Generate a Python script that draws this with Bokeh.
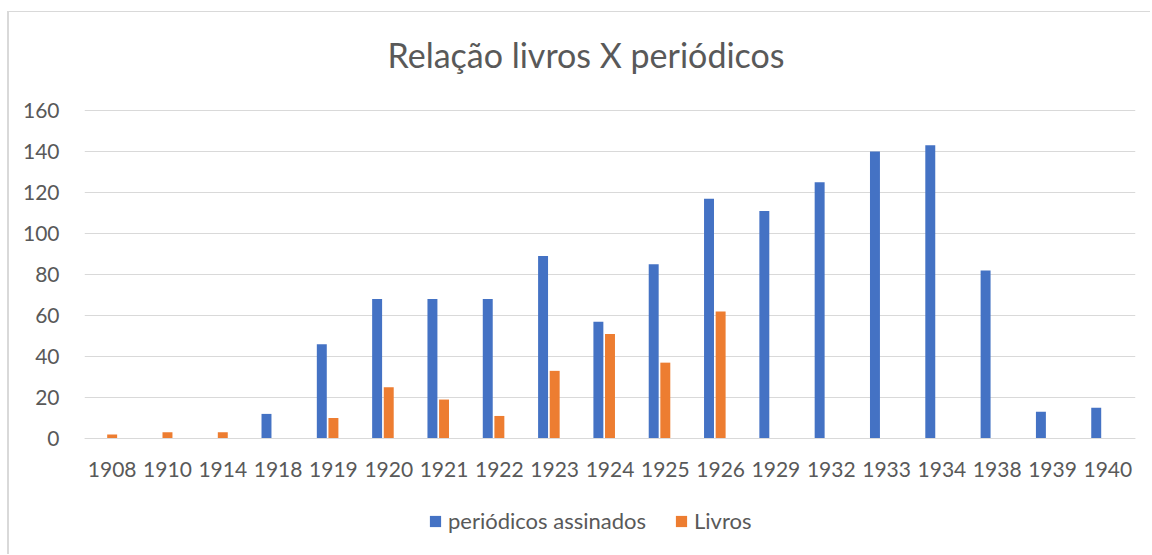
from bokeh.plotting import figure
from bokeh.models import (ColumnDataSource, FactorRange, Range1d, Legend, LegendItem,
                          FixedTicker, Label)
from bokeh.transform import dodge
from bokeh.embed import file_html
from bokeh.resources import INLINE

anos = ["1908", "1910", "1914", "1918", "1919", "1920", "1921", "1922", "1923", "1924",
        "1925", "1926", "1929", "1932", "1933", "1934", "1938", "1939", "1940"]
periodicos = [0, 0, 0, 12, 46, 68, 68, 68, 89, 57, 85, 117, 111, 125, 140, 143, 82, 13, 15]
livros = [2, 3, 3, 0, 10, 25, 19, 11, 33, 51, 37, 62, 0, 0, 0, 0, 0, 0, 0]
y_ticks = [0, 20, 40, 60, 80, 100, 120, 140, 160]

titulo = "Relação livros X periódicos"
series_names = ["periódicos assinados", "Livros"]

src = ColumnDataSource(dict(ano=anos, per=periodicos, liv=livros))

FONT = "Lato"
TXT = "#595959"

# layout in pixels (content area of the figure)
H = 543
px_top_tick = 98      # y-pixel of 160 inside figure
px_zero = 426         # y-pixel of 0 inside figure
ppu = (px_zero - px_top_tick) / (y_ticks[-1] - y_ticks[0])
y_end = y_ticks[-1] + px_top_tick / ppu
y_start = -(H - px_zero) / ppu
cat_px = 1051 / len(anos)

p = figure(x_range=FactorRange(*anos), y_range=Range1d(y_start, y_end),
           width=1143, height=H, output_backend="svg", toolbar_location=None,
           min_border_left=75, min_border_right=17, min_border_top=0, min_border_bottom=0,
           styles={"margin-left": "7px", "margin-top": "11px",
                   "border-left": "2px solid #d9d9d9", "border-top": "1px solid #d9d9d9"})

r1 = p.vbar(x=dodge("ano", -0.21, range=p.x_range), top="per", width=0.18, source=src,
            fill_color="#4472C4", line_color=None)
r2 = p.vbar(x=dodge("ano", 0.0, range=p.x_range), top="liv", width=0.18, source=src,
            fill_color="#ED7D31", line_color=None)

p.outline_line_color = None
p.xgrid.grid_line_color = None
p.ygrid.grid_line_color = "#d9d9d9"
p.ygrid.grid_line_width = 1

p.yaxis.ticker = FixedTicker(ticks=y_ticks)
p.yaxis.axis_line_color = None
p.yaxis.major_tick_line_color = None
p.yaxis.minor_tick_line_color = None
p.yaxis.major_label_text_font = FONT
p.yaxis.major_label_text_font_size = "21px"
p.yaxis.major_label_text_color = TXT
p.yaxis.major_label_standoff = 19

p.xaxis.fixed_location = 0
p.xaxis.axis_line_color = "#d9d9d9"
p.xaxis.major_tick_line_color = None
p.xaxis.minor_tick_line_color = None
p.xaxis.major_label_text_font = FONT
p.xaxis.major_label_text_font_size = "21px"
p.xaxis.major_label_text_color = TXT
p.xaxis.major_label_standoff = 17

title_y = (px_zero - 42) / ppu
title_x = len(anos) / 2 - 24 / cat_px
p.add_layout(Label(x=title_x, y=title_y, text=titulo, text_align="center",
                   text_baseline="middle", text_font=FONT, text_font_size="34px",
                   text_color=TXT))

legend = Legend(items=[LegendItem(label=series_names[0], renderers=[r1]),
                       LegendItem(label=series_names[1], renderers=[r2])],
                orientation="horizontal", location=(344, 21),
                label_text_font=FONT, label_text_font_size="22px", label_text_color=TXT,
                glyph_width=14, glyph_height=14, spacing=28, label_standoff=6,
                border_line_color=None, background_fill_alpha=0, margin=0, padding=0)
p.add_layout(legend, "center")

open("out.html", "w").write(file_html(p, INLINE))
